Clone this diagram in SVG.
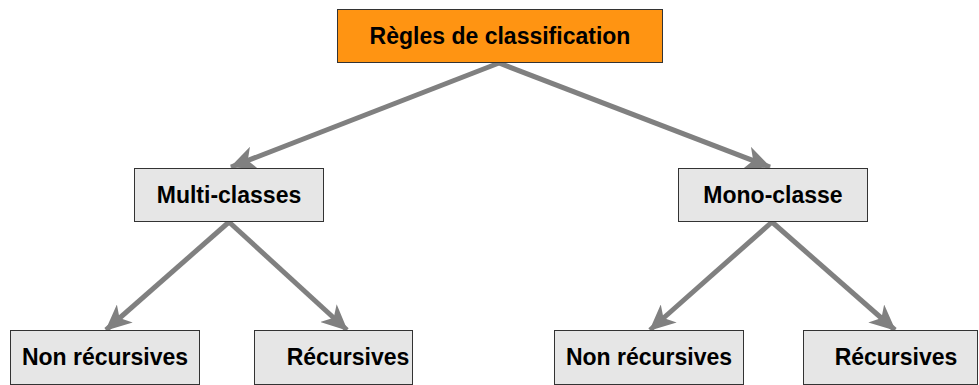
<svg xmlns="http://www.w3.org/2000/svg" width="979" height="385" viewBox="0 0 979 385">
<style>
.box{fill:#e6e6e6;stroke:#333;stroke-width:1}
.root{fill:#ff9412;stroke:#333;stroke-width:1}
.lbl{font-family:"Liberation Sans",Arial,sans-serif;font-weight:bold;font-size:23px;fill:#000;text-anchor:middle;dominant-baseline:central}
.edge{stroke:#808080;stroke-width:5;fill:none;marker-end:url(#ah)}
</style>
<defs>
<marker id="ah" markerUnits="userSpaceOnUse" viewBox="0 0 26 24" refX="25" refY="12" markerWidth="26" markerHeight="24" orient="auto">
<path d="M0,0 L26,12 L0,24 L7,12 z" fill="#808080"/>
</marker>
</defs>
<g id="connectors">
<line class="edge" x1="499" y1="63" x2="231" y2="167"/>
<line class="edge" x1="499" y1="63" x2="770" y2="167"/>
<line class="edge" x1="229" y1="222" x2="106" y2="330"/>
<line class="edge" x1="229" y1="222" x2="347" y2="330"/>
<line class="edge" x1="772" y1="222" x2="650" y2="330"/>
<line class="edge" x1="772" y1="222" x2="895" y2="330"/>
</g>
<g id="n-root"><rect class="root" x="337.5" y="9.5" width="325" height="53"/><text class="lbl" x="500" y="36">Règles de classification</text></g>
<g id="n-multi"><rect class="box" x="134.5" y="168.5" width="189" height="53"/><text class="lbl" x="229" y="195">Multi-classes</text></g>
<g id="n-mono"><rect class="box" x="678.5" y="168.5" width="189" height="53"/><text class="lbl" x="773" y="195">Mono-classe</text></g>
<g id="n-nr1"><rect class="box" x="10.5" y="330.5" width="189" height="54"/><text class="lbl" x="105" y="357">Non récursives</text></g>
<g id="n-r1"><rect class="box" x="254.5" y="330.5" width="158" height="54"/><text class="lbl" x="348" y="357">Récursives</text></g>
<g id="n-nr2"><rect class="box" x="554.5" y="330.5" width="189" height="54"/><text class="lbl" x="649" y="357">Non récursives</text></g>
<g id="n-r2"><rect class="box" x="803.5" y="330.5" width="174" height="54"/><text class="lbl" x="896" y="357">Récursives</text></g>
</svg>
